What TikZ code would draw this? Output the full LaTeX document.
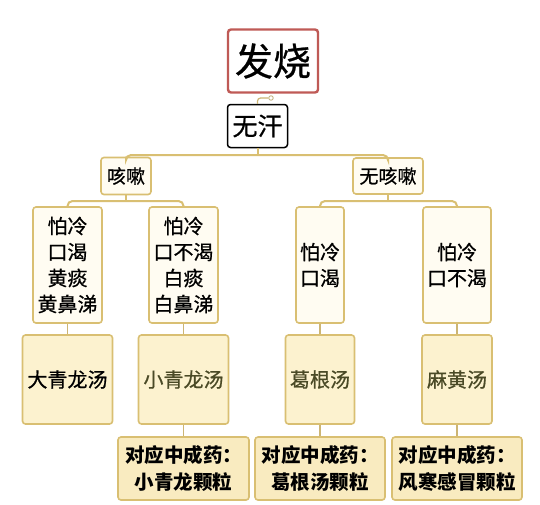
\documentclass[tikz,border=0pt]{standalone}
\usepackage{fontspec}
\setmainfont{Noto Sans CJK SC}
\newfontfamily\heavy{Noto Sans CJK SC}[FakeBold=0.7]
\usepackage{xcolor}
\definecolor{gold}{HTML}{D9BF72}
\definecolor{cream}{HTML}{FCF2CF}
\definecolor{creamlt}{HTML}{FFFCF2}
\definecolor{cream2}{HTML}{F9EBC0}
\definecolor{olivetxt}{HTML}{4A4A26}
\definecolor{redbd}{HTML}{BF5A56}

\begin{document}
\begin{tikzpicture}[x=1pt,y=-1pt,
  cat/.style={draw=gold, line width=1.6pt, fill=creamlt, rounded corners=3pt,
    inner sep=0pt, align=center, font=\heavy\fontsize{19}{22}\selectfont},
  sym/.style={cat, font=\heavy\fontsize{20}{26}\selectfont},
  med/.style={draw=gold, line width=1.6pt, fill=cream, rounded corners=3pt,
    inner sep=0pt, text=olivetxt, font=\heavy\fontsize{20}{24}\selectfont},
  pill/.style={draw=gold, line width=1.6pt, fill=cream2, rounded corners=3pt,
    inner sep=0pt, align=center, font=\bfseries\fontsize{19.5}{27}\selectfont},
  link/.style={draw=gold, line width=2pt, rounded corners=5pt},
  stem/.style={draw=gold!85!gray, line width=1.2pt}]
\useasboundingbox[fill=white] (0,0) rectangle (540,504);
% top
\node[draw=redbd, line width=2.4pt, fill=white, rounded corners=3pt,
  minimum width=90pt, minimum height=63pt, inner sep=0pt,
  font=\heavy\fontsize{38}{40}\selectfont] (fa) at (273,61) {发烧};
\node[draw=black, line width=1.5pt, fill=white, rounded corners=3pt,
  minimum width=60pt, minimum height=43pt, inner sep=0pt,
  font=\heavy\fontsize{25}{28}\selectfont] (wuhan) at (257.5,126) {无汗};
\node[circle, draw=gold!70!gray, line width=0.8pt, fill=white,
  inner sep=1.6pt] (knob) at (271,98) {};
\draw[stem, rounded corners=3pt] (knob.west) -| (wuhan.north);
% cough / no cough
\node[cat, minimum width=50pt, minimum height=37pt] (kesou) at (126,176) {咳嗽};
\node[cat, minimum width=70pt, minimum height=36pt] (wuke) at (388,176) {无咳嗽};
\coordinate (j1) at (257.5,155);
\draw[link] (wuhan.south) -- (j1);
\draw[link] (kesou.north) |- (j1) -| (wuke.north);
% symptoms
\node[sym, minimum width=69pt, minimum height=116pt] (s1) at (67.5,265)
  {怕冷\\口渴\\黄痰\\黄鼻涕};
\node[sym, minimum width=69pt, minimum height=116pt] (s2) at (183.5,265)
  {怕冷\\口不渴\\白痰\\白鼻涕};
\node[sym, minimum width=48pt, minimum height=116pt] (s3) at (320,265)
  {怕冷\\口渴};
\node[sym, minimum width=68pt, minimum height=116pt] (s4) at (457,265)
  {怕冷\\口不渴};
\coordinate (j2) at (126,201);
\coordinate (j3) at (388,201);
\draw[link] (kesou.south) -- (j2);
\draw[link] (s1.north) |- (j2) -| (s2.north);
\draw[link] (wuke.south) -- (j3);
\draw[link] (s3.north) |- (j3) -| (s4.north);
% formulas
\node[med, text=black, minimum width=90pt, minimum height=89pt] (m1) at (67.5,379.5) {大青龙汤};
\node[med, minimum width=90pt, minimum height=89pt] (m2) at (183.5,379.5) {小青龙汤};
\node[med, minimum width=69pt, minimum height=89pt] (m3) at (320,379.5) {葛根汤};
\node[med, minimum width=70pt, minimum height=89pt] (m4) at (457,379.5) {麻黄汤};
\foreach \i in {1,...,4}
  \draw[stem] (s\i.south) -- (m\i.north);
% patent medicines
\node[pill, minimum width=131pt, minimum height=63pt] (c2) at (183.5,468.5)
  {对应中成药：\\小青龙颗粒};
\node[pill, minimum width=130pt, minimum height=63pt] (c3) at (320,468.5)
  {对应中成药：\\葛根汤颗粒};
\node[pill, minimum width=130pt, minimum height=63pt] (c4) at (457,468.5)
  {对应中成药：\\风寒感冒颗粒};
\foreach \i in {2,3,4}
  \draw[stem] (m\i.south) -- (c\i.north);
\end{tikzpicture}
\end{document}
